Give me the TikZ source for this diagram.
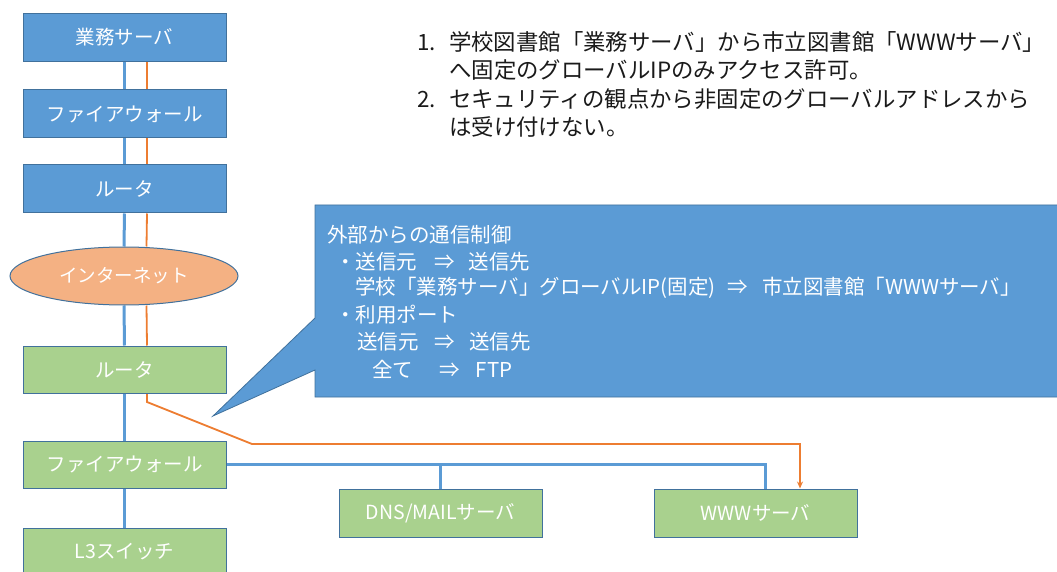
\documentclass[tikz,border=0pt]{standalone}
\usepackage{fontspec}
\setmainfont{Noto Sans CJK JP}
\usetikzlibrary{shapes.geometric,arrows.meta,backgrounds}
\definecolor{boxblue}{HTML}{5B9BD5}
\definecolor{edgeblue}{HTML}{41719C}
\definecolor{boxgreen}{HTML}{A9D18E}
\definecolor{inetorange}{HTML}{F4B183}
\definecolor{lineorange}{HTML}{ED7D31}
\definecolor{lineblue}{HTML}{5B9BD5}
\definecolor{notetext}{HTML}{1A1A1A}
\tikzset{
  netbox/.style={draw=edgeblue, line width=1pt, minimum width=203pt, minimum height=48pt,
    inner sep=0pt, text=white, font=\fontsize{19.5}{22}\selectfont},
  bluebox/.style={netbox, fill=boxblue},
  greenbox/.style={netbox, fill=boxgreen},
  inetshape/.style={ellipse, draw=edgeblue, fill=inetorange, line width=1pt,
    minimum width=228pt, minimum height=58pt, inner sep=0pt, text=white,
    font=\fontsize{18.5}{22}\selectfont},
  bluelink/.style={draw=lineblue, line width=3pt},
  orangelink/.style={draw=lineorange, line width=1.8pt},
  calltext/.style={anchor=west, text=white, inner sep=0pt, font=\fontsize{20.5}{24}\selectfont},
  notetxt/.style={anchor=west, text=notetext, inner sep=0pt, font=\fontsize{22.4}{27}\selectfont},
  calloutshape/.style={fill=boxblue, draw=edgeblue, line width=0.8pt}
}
\begin{document}
\begin{tikzpicture}[x=1pt,y=-1pt]
\useasboundingbox (0,0) rectangle (1057,572);
% left column
\node[bluebox] (bs) at (124.5,37.5) {業務サーバ};
\node[bluebox] (bf) at (124.5,114) {ファイアウォール};
\node[bluebox] (br) at (124.5,189) {ルータ};
\node[inetshape] (inet) at (124,276) {インターネット};
\node[greenbox, minimum height=47pt] (gr) at (124.5,369.5) {ルータ};
\node[greenbox, minimum height=47pt] (gf) at (124.5,464.5) {ファイアウォール};
\node[greenbox, minimum height=47pt] (l3) at (124.5,551.5) {L3スイッチ};
\node[greenbox] (dns) at (440.5,513) {DNS/MAILサーバ};
\node[greenbox] (www) at (755.5,513) {WWWサーバ};
% connectors
\begin{scope}[on background layer]
\draw[bluelink] (bs.south) -- (bf.north);
\draw[bluelink] (bf.south) -- (br.north);
\draw[bluelink] (br.south) -- (inet.north);
\draw[bluelink] (inet.south) -- (gr.north);
\draw[bluelink] (gr.south) -- (gf.north);
\draw[bluelink] (gf.south) -- (l3.north);
\draw[bluelink] (gf.east) -| ([xshift=9.5pt]www.north);
\draw[bluelink] (dns.north) -- (dns.north |- gf.east);
\draw[orangelink] ([xshift=22.5pt]bs.south) -- ([xshift=22.5pt]bf.north);
\draw[orangelink] ([xshift=22.5pt]bf.south) -- ([xshift=22.5pt]br.north);
\draw[orangelink] ([xshift=22.5pt]br.south) -- ([xshift=22.5pt]inet.north);
\draw[orangelink] ([xshift=22.5pt]inet.south) -- ([xshift=22.5pt]gr.north);
\coordinate (ob1) at (147,402);
\coordinate (ob2) at (252,444);
\draw[orangelink, -{Stealth[length=7pt,width=6pt]}] ([xshift=22.5pt]gr.south) -- (ob1) -- (ob2) -| ([xshift=44.5pt]www.north);
\end{scope}
% callout
\draw[calloutshape] (315,205) -- (1062,205) -- (1062,397) -- (315,397) -- (315,370) -- (213,416) -- (315,318) -- cycle;
\node[calltext] (c1) at (327,235) {外部からの通信制御};
\node[calltext] (c2) at (335,262) {・送信元\hspace{17pt}⇒\hspace{14pt}送信先};
\node[calltext] (c3) at (355,288) {学校「業務サーバ」グローバルIP(固定)\hspace{12pt}⇒\hspace{14pt}市立図書館「WWWサーバ」};
\node[calltext] (c4) at (335,315) {・利用ポート};
\node[calltext] (c5) at (357,342) {送信元\hspace{16pt}⇒\hspace{14pt}送信先};
\node[calltext] (c6) at (372,369) {全て\hspace{26pt}⇒\hspace{16pt}FTP};
% notes
\node[notetxt] (n1) at (417,42) {\makebox[32pt][l]{1.}学校図書館「業務サーバ」から市立図書館「WWWサーバ」};
\node[notetxt] (n2) at (449,70) {へ固定のグローバルIPのみアクセス許可。};
\node[notetxt] (n3) at (417,99) {\makebox[32pt][l]{2.}セキュリティの観点から非固定のグローバルアドレスから};
\node[notetxt] (n4) at (449,127) {は受け付けない。};
\end{tikzpicture}
\end{document}
